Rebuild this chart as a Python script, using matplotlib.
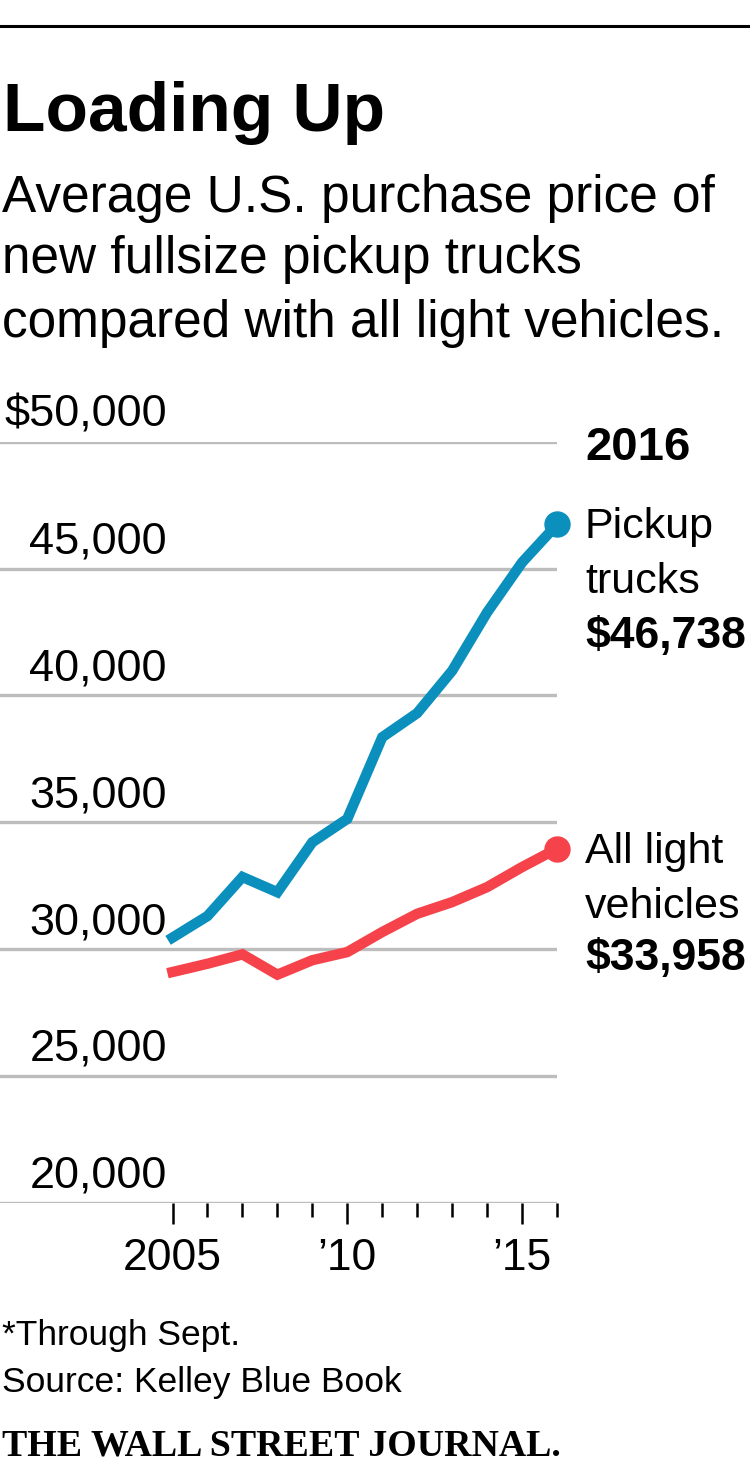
import numpy as np
import matplotlib
matplotlib.use("Agg")
import matplotlib.pyplot as plt
from matplotlib import font_manager
from matplotlib.transforms import blended_transform_factory, offset_copy

# data (average purchase price, USD)
years = [2005, 2006, 2007, 2008, 2009, 2010, 2011, 2012, 2013, 2014, 2015, 2016]
pickup = [30450, 31300, 32840, 32240, 34210, 35130, 38350, 39300, 40970, 43270, 45240, 46738]
light = [29094, 29420, 29790, 28990, 29560, 29880, 30670, 31390, 31850, 32440, 33230, 33958]

yticks = [20000, 25000, 30000, 35000, 40000, 45000, 50000]
ytick_labels = ['20,000', '25,000', '30,000', '35,000', '40,000', '45,000', '$50,000']
xmajor = [2005, 2010, 2015]
xmajor_labels = ['2005', '\u201910', '\u201915']
xminor = [2006, 2007, 2008, 2009, 2011, 2012, 2013, 2014, 2016]

blue = '#0b8fbd'
red = '#f6434b'
grid_c = '#bdbdbd'

names = {f.name for f in font_manager.fontManager.ttflist}
sans = 'Liberation Sans'
if 'Liberation Sans Narrow' in names:
    title_font, title_size = 'Liberation Sans Narrow', 57
else:
    title_font, title_size = 'Liberation Sans', 50

W, H = 750, 1467
fig = plt.figure(figsize=(W / 100, H / 100), dpi=100)
fig.patch.set_facecolor('white')


def ftext(x, y, s, **kw):
    # x, y in pixels from the top-left, y is the baseline
    kw.setdefault('family', sans)
    kw.setdefault('va', 'baseline')
    fig.text(x / W, 1 - y / H, s, **kw)


# top rule
fig.add_artist(plt.Line2D([0, 1], [1 - 26 / H, 1 - 26 / H], color='black', lw=2.2,
                          transform=fig.transFigure))

ftext(3, 131, 'Loading Up', family=title_font, fontsize=title_size, fontweight='bold')
ftext(2, 212, 'Average U.S. purchase price of', fontsize=37)
ftext(2, 273, 'new fullsize pickup trucks', fontsize=37)
ftext(2, 337, 'compared with all light vehicles.', fontsize=37)

ax = fig.add_axes([0, (H - 1202.7) / H, 557 / W, (1202.7 - 441.7) / H])
ax.set_xlim(2005 - 172.5 / 34.95, 2016)
ax.set_ylim(20000, 50000)
for s in ax.spines.values():
    s.set_visible(False)

ax.set_yticks(yticks)
ax.yaxis.grid(True, color=grid_c, lw=2.4)
ax.set_axisbelow(True)
ax.tick_params(axis='y', length=0, labelleft=False)

ax.set_xticks(xmajor)
ax.set_xticks(xminor, minor=True)
ax.tick_params(axis='x', which='major', length=15, width=1.8, color='black',
               direction='out', labelbottom=False)
ax.tick_params(axis='x', which='minor', length=10, width=1.8, color='black',
               direction='out')

ax.plot(years, pickup, color=blue, lw=7.5, solid_joinstyle='miter', clip_on=False, zorder=3)
ax.plot(years, light, color=red, lw=7.5, solid_joinstyle='miter', clip_on=False, zorder=3)
ax.plot(years[-1], pickup[-1], 'o', color=blue, ms=18, clip_on=False, zorder=4)
ax.plot(years[-1], light[-1], 'o', color=red, ms=18, clip_on=False, zorder=4)

# y labels sit above their gridlines
ytr = offset_copy(blended_transform_factory(ax.transAxes, ax.transData), fig=fig,
                  x=0, y=15, units='dots')
for v, lab in zip(yticks, ytick_labels):
    ax.text(167 / 557, v, lab, transform=ytr, ha='right', va='baseline',
            family=sans, fontsize=32.5)

xtr = blended_transform_factory(ax.transData, fig.transFigure)
for yr, lab in zip(xmajor, xmajor_labels):
    ax.text(yr, 1 - 1270 / H, lab, transform=xtr, ha='center', va='baseline',
            family=sans, fontsize=32)

# right-hand labels
ftext(585, 460, '2016', fontsize=34, fontweight='bold')
ftext(585, 538, 'Pickup', fontsize=31)
ftext(585, 593, 'trucks', fontsize=31)
ftext(585, 648, '$46,738', fontsize=32, fontweight='bold')
ftext(585, 863, 'All light', fontsize=31)
ftext(585, 918, 'vehicles', fontsize=31)
ftext(585, 970, '$33,958', fontsize=32, fontweight='bold')

ftext(2, 1345, '*Through Sept.', fontsize=25.5)
ftext(2, 1392, 'Source: Kelley Blue Book', fontsize=25.5)
ftext(2, 1455, 'THE WALL STREET JOURNAL.', family='Liberation Serif', fontsize=27.3,
      fontweight='bold')

fig.savefig('out.png', dpi=100, facecolor='white')
